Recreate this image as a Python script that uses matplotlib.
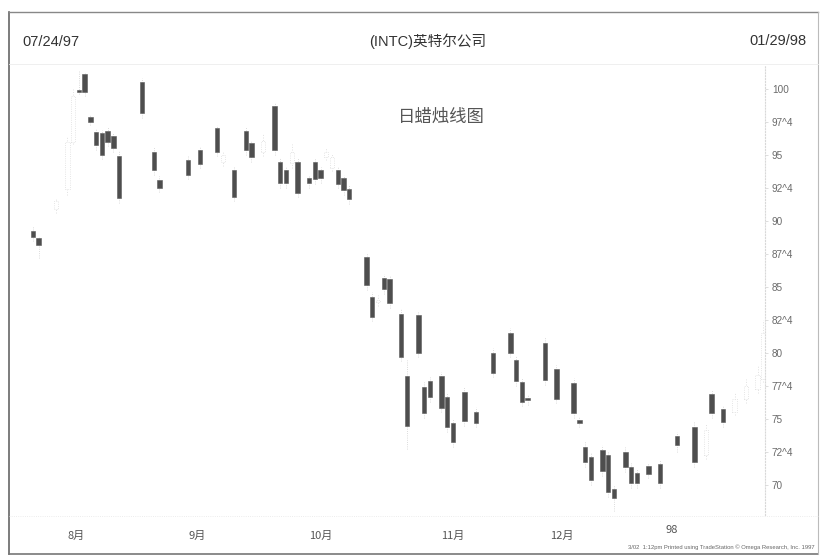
import matplotlib
matplotlib.use("Agg")
import matplotlib.pyplot as plt
from matplotlib.patches import Rectangle

plt.rcParams['font.family'] = ['Liberation Sans', 'Noto Sans CJK SC', 'DejaVu Sans']

# ---------------- data ----------------
# trading-day number (0 = 07/24/97) of each filled (down) candle
down_day = [0, 1, 8, 9, 10, 11, 12, 13, 14, 15, 19, 21, 22, 27, 29, 32, 35, 37, 38, 42,
            43, 44, 46, 48, 49, 50, 53, 54, 55, 58, 59, 61, 62, 64, 65, 67, 68, 69, 71, 72,
            73, 75, 77, 80, 83, 84, 85, 86, 89, 91, 94, 95, 96, 97, 99, 100, 101, 103, 104, 105,
            107, 109, 112, 115, 118, 120]
down_open = [89.27, 88.71, 99.95, 101.14, 97.90, 96.77, 96.67, 96.82, 96.46, 94.92,
             100.55, 95.25, 93.11, 94.62, 95.38, 97.02, 93.86, 96.84, 95.89, 98.71,
             94.49, 93.86, 94.49, 93.23, 94.49, 93.86, 93.86, 93.23, 92.40, 87.25,
             84.27, 85.66, 85.58, 82.95, 78.26, 82.88, 77.45, 77.90, 78.26, 76.69,
             74.72, 77.07, 75.55, 79.98, 81.52, 79.47, 77.83, 76.57, 80.76, 78.79,
             77.75, 74.92, 72.90, 72.12, 72.65, 72.27, 69.70, 72.52, 71.36, 70.91,
             71.44, 71.59, 73.71, 74.42, 76.89, 75.74]
down_close = [88.81, 88.18, 99.78, 99.80, 97.52, 95.76, 95.00, 96.01, 95.51, 91.72,
              98.16, 93.86, 92.50, 93.48, 94.32, 95.25, 91.80, 95.38, 94.83, 95.38,
              92.86, 92.86, 92.10, 92.86, 93.16, 93.23, 92.80, 92.35, 91.64, 85.15,
              82.75, 84.83, 83.77, 79.72, 74.47, 80.00, 75.48, 76.69, 75.81, 74.39,
              73.28, 74.87, 74.72, 78.51, 80.00, 77.88, 76.29, 76.44, 77.95, 76.52,
              75.43, 74.70, 71.77, 70.38, 71.08, 69.49, 69.02, 71.36, 70.15, 70.15,
              70.83, 70.15, 73.03, 71.77, 75.45, 74.80]
down_high = [89.6, 88.9, 101.4, 101.3, 98.1, 97.0, 96.9, 97.1, 96.7, 95.3,
             100.8, 95.6, 93.4, 95.0, 95.7, 97.3, 94.2, 97.1, 96.1, 99.0,
             94.8, 94.2, 94.8, 93.5, 94.8, 94.1, 94.1, 93.5, 92.7, 87.6,
             84.6, 86.0, 85.9, 83.4, 79.5, 83.2, 77.8, 78.2, 78.6, 77.0,
             75.0, 77.4, 75.9, 80.4, 81.9, 79.8, 78.1, 76.9, 81.2, 79.1,
             78.1, 75.2, 73.3, 72.4, 73.0, 72.6, 70.0, 72.9, 71.7, 71.2,
             71.7, 71.9, 74.0, 74.8, 77.2, 76.0]
down_low = [88.5, 87.2, 99.6, 99.5, 97.3, 95.4, 94.7, 95.7, 95.2, 91.4,
            97.8, 93.5, 92.2, 93.2, 94.0, 94.9, 91.5, 95.0, 94.5, 95.0,
            92.5, 92.5, 91.8, 92.5, 92.8, 92.9, 92.5, 92.0, 91.3, 84.8,
            82.4, 84.5, 83.4, 79.4, 72.7, 79.7, 75.1, 76.3, 75.5, 74.0,
            72.9, 74.5, 74.4, 78.2, 79.7, 77.5, 76.0, 76.1, 77.6, 76.2,
            75.1, 74.4, 71.4, 70.0, 70.7, 69.1, 68.0, 71.0, 69.8, 69.8,
            70.5, 69.8, 72.5, 71.4, 75.1, 74.4]

# hollow (up) candles, faint in the print
up_day = [4, 6, 7, 33, 40, 45, 51, 52, 60, 117, 122, 124, 126, 127]
up_open = [90.9, 92.4, 96.0, 94.5, 95.2, 94.4, 94.85, 94.0, 83.9, 72.3, 75.5, 76.5, 77.3, 78.0]
up_close = [91.5, 96.0, 99.5, 95.0, 96.1, 95.2, 95.2, 94.85, 84.0, 74.2, 76.5, 77.5, 78.3, 81.5]
up_high = [91.7, 96.4, 100.0, 95.3, 96.6, 95.8, 95.5, 95.1, 84.4, 74.6, 77.0, 78.0, 79.0, 82.5]
up_low = [90.6, 92.0, 95.8, 94.2, 94.9, 94.0, 94.6, 93.8, 83.6, 72.0, 75.3, 76.2, 77.0, 77.8]

price_ticks = [100, 97.5, 95, 92.5, 90, 87.5, 85, 82.5, 80, 77.5, 75, 72.5, 70]
price_labels = ['100', '97^4', '95', '92^4', '90', '87^4', '85', '82^4', '80', '77^4', '75', '72^4', '70']
month_day = [6, 27, 48, 71, 90, 110]
month_labels = ['8月', '9月', '10月', '11月', '12月', '98']

# ---------------- figure ----------------
W, H = 823, 558
fig = plt.figure(figsize=(W / 100, H / 100), dpi=100)
fig.patch.set_facecolor('white')

def fx(px):
    return px / W

def fy(py):
    return 1 - py / H

ax_l, ax_r, ax_t, ax_b = 12, 765, 65, 515
ax = fig.add_axes([fx(ax_l), fy(ax_b), fx(ax_r - ax_l), fy(ax_t) - fy(ax_b)])
ax.set_facecolor('white')
ax.set_xlim(-3.65, 127.3)
ax.set_ylim(67.73, 101.82)

bw = 0.78
# faint hollow candles
for d, o, c, h, l in zip(up_day, up_open, up_close, up_high, up_low):
    ax.vlines(d, l, h, color='#e0e0e0', lw=0.7, linestyles=':', zorder=1)
    ax.add_patch(Rectangle((d - bw / 2, o), bw, c - o, facecolor='white',
                           edgecolor='#dddddd', lw=0.6, linestyle=':', zorder=2))
# filled candles
for d, o, c, h, l in zip(down_day, down_open, down_close, down_high, down_low):
    ax.vlines(d, l, h, color='#cfcfcf', lw=0.6, linestyles=':', zorder=1)
    ax.add_patch(Rectangle((d - bw / 2, c), bw, o - c, facecolor='#4e4e4e',
                           edgecolor='#5a5a5a', lw=0.4, zorder=3))

for s in ['top', 'left', 'bottom']:
    ax.spines[s].set_visible(False)
ax.spines['right'].set_color('#d8d8d8')
ax.spines['right'].set_linestyle(':')
ax.spines['right'].set_linewidth(0.8)
ax.set_xticks([])
ax.yaxis.tick_right()
ax.set_yticks(price_ticks)
ax.set_yticklabels(price_labels)
ax.tick_params(axis='y', length=2, width=0.5, color='#d0d0d0', pad=3,
               labelsize=7.2, labelcolor='#6a6a6a')

# month labels (pixel rows converted to axes fraction)
for d, lab in zip(month_day, month_labels):
    yy = 530 if lab == '98' else 536
    ax.text(d, (ax_b - yy) / (ax_b - ax_t), lab, transform=ax.get_xaxis_transform(),
            ha='left', va='center', fontsize=8, color='#555555',
            family=['Noto Sans CJK SC', 'DejaVu Sans'])

# header
fig.text(fx(22), fy(42), '07/24/97', ha='left', va='center', fontsize=10.5, color='#333333')
fig.text(fx(807), fy(41), '01/29/98', ha='right', va='center', fontsize=10.5, color='#333333')
fig.text(fx(428), fy(41), '(INTC)英特尔公司', ha='center', va='center', fontsize=10.5,
         color='#333333')
fig.text(fx(398), fy(117), '日蜡烛线图', ha='left', va='center', fontsize=12.5,
         color='#555555', family=['Noto Sans CJK SC', 'DejaVu Sans'])
fig.text(fx(815), fy(547), '3/02  1:12pm Printed using TradeStation © Omega Research, Inc. 1997',
         ha='right', va='center', fontsize=4.2, color='#666666')

# outer frame and separators
fig.add_artist(plt.Line2D([fx(9), fx(9)], [fy(12), fy(554)], color='#666666', lw=1.2))
fig.add_artist(plt.Line2D([fx(9), fx(818)], [fy(12), fy(12)], color='#888888', lw=1.0))
fig.add_artist(plt.Line2D([fx(9), fx(818)], [fy(554), fy(554)], color='#777777', lw=1.2))
fig.add_artist(plt.Line2D([fx(818), fx(818)], [fy(12), fy(554)], color='#bbbbbb', lw=0.8))
fig.add_artist(plt.Line2D([fx(9), fx(818)], [fy(64), fy(64)], color='#ececec', lw=0.6))
fig.add_artist(plt.Line2D([fx(9), fx(818)], [fy(516), fy(516)], color='#e6e6e6', lw=0.6, ls=':'))

fig.savefig('out.png', dpi=100, facecolor='white')
